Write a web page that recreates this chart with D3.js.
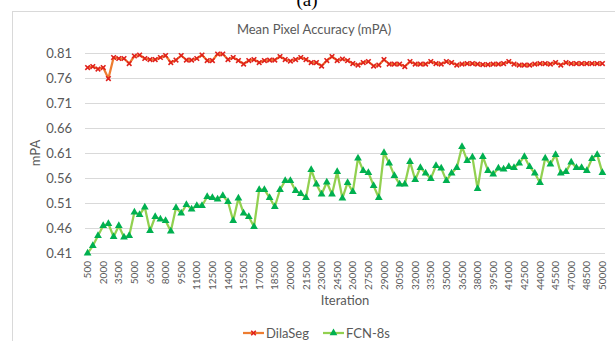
<!DOCTYPE html>
<html>
<head>
<meta charset="utf-8">
<script src="https://cdn.jsdelivr.net/npm/d3@7"></script>
<style>
  body { margin: 0; background: #fff; }
  svg { display: block; font-family: Lato, "Open Sans", sans-serif; }
  .grid line { stroke: #d9d9d9; stroke-width: 1; }
  .tick-y { fill: #595959; font-size: 13px; }
  .tick-x { fill: #595959; font-size: 10px; }
</style>
</head>
<body>
<div id="chart"></div>
<script>
var width = 615,
    height = 341,
    margin = {left: 85, right: 10, top: 53, bottom: 88};

// iterations 500..50000 step 500
var iterations = d3.range(500, 50001, 500);

var xTickLabels = [500, 2000, 3500, 5000, 6500, 8000, 9500, 11000, 12500, 14000,
    15500, 17000, 18500, 20000, 21500, 23000, 24500, 26000, 27500, 29000,
    30500, 32000, 33500, 35000, 36500, 38000, 39500, 41000, 42500, 44000,
    45500, 47000, 48500, 50000];

var yTicks = [0.41, 0.46, 0.51, 0.56, 0.61, 0.66, 0.71, 0.76, 0.81];

var dilaSeg = [
    0.781, 0.783, 0.778, 0.781, 0.759, 0.801, 0.799, 0.799, 0.789, 0.804,
    0.806, 0.799, 0.797, 0.797, 0.801, 0.805, 0.791, 0.796, 0.805, 0.796,
    0.796, 0.799, 0.806, 0.795, 0.795, 0.808, 0.808, 0.797, 0.801, 0.795,
    0.788, 0.795, 0.797, 0.791, 0.795, 0.796, 0.796, 0.803, 0.797, 0.794,
    0.797, 0.801, 0.797, 0.791, 0.791, 0.784, 0.795, 0.803, 0.795, 0.798,
    0.795, 0.789, 0.786, 0.791, 0.793, 0.784, 0.786, 0.797, 0.788, 0.788,
    0.788, 0.783, 0.793, 0.788, 0.788, 0.788, 0.793, 0.789, 0.788, 0.793,
    0.791, 0.786, 0.788, 0.789, 0.789, 0.788, 0.787, 0.787, 0.788, 0.788,
    0.789, 0.793, 0.788, 0.786, 0.786, 0.786, 0.788, 0.789, 0.789, 0.788,
    0.791, 0.786, 0.791, 0.789, 0.789, 0.789, 0.789, 0.789, 0.789, 0.789
];

var fcn8s = [
    0.410, 0.425, 0.445, 0.465, 0.469, 0.443, 0.465, 0.442, 0.445, 0.492,
    0.487, 0.502, 0.455, 0.483, 0.478, 0.475, 0.454, 0.501, 0.490, 0.507,
    0.498, 0.505, 0.505, 0.523, 0.521, 0.518, 0.525, 0.513, 0.475, 0.520,
    0.490, 0.483, 0.463, 0.537, 0.537, 0.521, 0.503, 0.537, 0.555, 0.555,
    0.535, 0.529, 0.521, 0.577, 0.548, 0.528, 0.552, 0.528, 0.573, 0.520,
    0.551, 0.533, 0.600, 0.575, 0.571, 0.545, 0.521, 0.611, 0.590, 0.565,
    0.548, 0.548, 0.593, 0.557, 0.581, 0.570, 0.559, 0.585, 0.580, 0.555,
    0.570, 0.581, 0.623, 0.595, 0.602, 0.539, 0.603, 0.575, 0.568, 0.580,
    0.578, 0.583, 0.581, 0.590, 0.603, 0.583, 0.570, 0.551, 0.600, 0.588,
    0.607, 0.570, 0.573, 0.592, 0.581, 0.581, 0.575, 0.599, 0.607, 0.571
];

var seriesNames = ["DilaSeg", "FCN-8s"];
var lineColors = ["#ed7d31", "#92d050"];
var markerColors = ["#e0201b", "#00b050"];

var svg = d3.select("#chart").append("svg")
    .attr("width", width)
    .attr("height", height);

// outer frame
svg.append("rect")
    .attr("x", 12.5)
    .attr("y", 11.5)
    .attr("width", 620)
    .attr("height", 350)
    .style("fill", "none")
    .style("stroke", "#d9d9d9");

// sub-figure label, cut off at the top
svg.append("text")
    .attr("x", 307)
    .attr("y", 6)
    .attr("text-anchor", "middle")
    .style("font-family", "'Liberation Serif', 'DejaVu Serif', serif")
    .style("font-size", "19px")
    .style("fill", "#000")
    .text("(a)");

var x = d3.scaleBand()
    .domain(iterations)
    .range([margin.left, width - margin.right]);

var y = d3.scaleLinear()
    .domain([0.41, 0.81])
    .range([253.3, 53]);

function cx(d, i) {
    return x(iterations[i]) + x.bandwidth() / 2;
}

// gridlines
svg.append("g")
    .attr("class", "grid")
    .selectAll("line")
    .data(yTicks)
    .enter().append("line")
    .attr("x1", margin.left)
    .attr("x2", width - margin.right)
    .attr("y1", function (d) { return Math.round(y(d)) + 0.5; })
    .attr("y2", function (d) { return Math.round(y(d)) + 0.5; });

// y tick labels
svg.append("g")
    .selectAll("text")
    .data(yTicks)
    .enter().append("text")
    .attr("class", "tick-y")
    .attr("x", 72)
    .attr("y", function (d) { return y(d); })
    .attr("dy", "0.35em")
    .attr("text-anchor", "end")
    .text(function (d) { return d3.format(".2f")(d); });

// x tick labels (rotated)
svg.append("g")
    .selectAll("text")
    .data(xTickLabels)
    .enter().append("text")
    .attr("class", "tick-x")
    .attr("transform", function (d) {
        return "translate(" + (x(d) + x.bandwidth() / 2) + ",261) rotate(-90)";
    })
    .attr("dy", "0.35em")
    .attr("text-anchor", "end")
    .text(function (d) { return d; });

// titles
svg.append("text")
    .attr("x", 314)
    .attr("y", 29)
    .attr("dy", "0.35em")
    .attr("text-anchor", "middle")
    .style("font-size", "13px")
    .style("fill", "#595959")
    .text("Mean Pixel Accuracy (mPA)");

svg.append("text")
    .attr("transform", "translate(35,153) rotate(-90)")
    .attr("dy", "0.35em")
    .attr("text-anchor", "middle")
    .style("font-size", "13px")
    .style("fill", "#595959")
    .text("mPA");

svg.append("text")
    .attr("x", 345)
    .attr("y", 300)
    .attr("dy", "0.35em")
    .attr("text-anchor", "middle")
    .style("font-size", "13px")
    .style("fill", "#595959")
    .text("Iteration");

// markers
function drawCross(g, px, py, color) {
    g.append("path")
        .attr("d", "M" + (px - 2.3) + "," + (py - 2.3) + "L" + (px + 2.3) + "," + (py + 2.3) +
            "M" + (px - 2.3) + "," + (py + 2.3) + "L" + (px + 2.3) + "," + (py - 2.3))
        .style("stroke", color)
        .style("stroke-width", 1.6)
        .style("fill", "none");
}

var triangle = d3.symbol().type(d3.symbolTriangle).size(26);

function drawTriangle(g, px, py, color) {
    g.append("path")
        .attr("d", triangle())
        .attr("transform", "translate(" + px + "," + py + ")")
        .style("fill", color);
}

var allData = [dilaSeg, fcn8s];

var line = d3.line()
    .x(cx)
    .y(function (d) { return y(d); });

allData.forEach(function (values, k) {
    var g = svg.append("g").attr("class", "series");
    g.append("path")
        .attr("d", line(values))
        .style("fill", "none")
        .style("stroke", lineColors[k])
        .style("stroke-width", 2.25)
        .style("stroke-linejoin", "round");
    values.forEach(function (v, i) {
        if (k === 0) drawCross(g, cx(v, i), y(v), markerColors[k]);
        else drawTriangle(g, cx(v, i), y(v), markerColors[k]);
    });
});

// legend
var legendX = [243, 323],
    legendY = 333;

seriesNames.forEach(function (name, k) {
    var lg = svg.append("g");
    lg.append("line")
        .attr("x1", legendX[k])
        .attr("x2", legendX[k] + 21)
        .attr("y1", legendY)
        .attr("y2", legendY)
        .style("stroke", lineColors[k])
        .style("stroke-width", 2.25);
    if (k === 0) drawCross(lg, legendX[k] + 10.5, legendY, markerColors[k]);
    else drawTriangle(lg, legendX[k] + 10.5, legendY, markerColors[k]);
    lg.append("text")
        .attr("x", legendX[k] + 23)
        .attr("y", legendY)
        .attr("dy", "0.35em")
        .style("font-size", "13px")
        .style("fill", "#595959")
        .text(name);
});
</script>
</body>
</html>
